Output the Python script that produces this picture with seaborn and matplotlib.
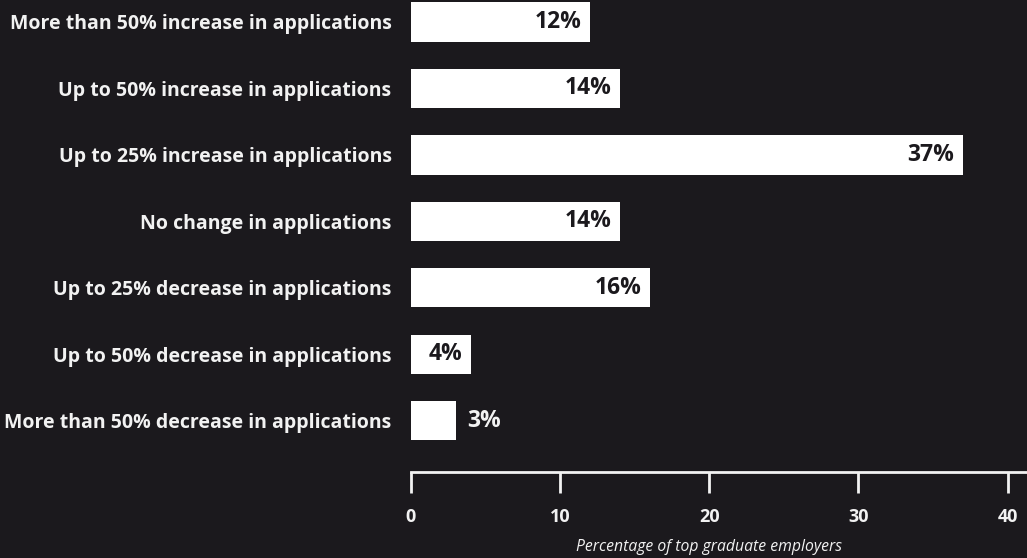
import matplotlib
matplotlib.use("Agg")
import matplotlib.pyplot as plt
import seaborn as sns
import pandas as pd

categories = [
    "More than 50% increase in applications",
    "Up to 50% increase in applications",
    "Up to 25% increase in applications",
    "No change in applications",
    "Up to 25% decrease in applications",
    "Up to 50% decrease in applications",
    "More than 50% decrease in applications",
]
values = [12, 14, 37, 14, 16, 4, 3]
x_ticks = [0, 10, 20, 30, 40]
x_label = "Percentage of top graduate employers"

BG = "#1b191d"
FG = "#f2f2f2"

sns.set_theme(style="white")
plt.rcParams["font.family"] = ["Open Sans", "DejaVu Sans"]

df = pd.DataFrame({"category": categories, "value": values})

fig = plt.figure(figsize=(10.27, 5.58), dpi=100, facecolor=BG)
ax = fig.add_axes([411 / 1027, 86 / 558, 616 / 1027, 472 / 558])
ax.set_facecolor(BG)

sns.barplot(data=df, x="value", y="category", orient="h", color="white",
            saturation=1, width=0.59, ax=ax, edgecolor="none")

ax.set_xlim(0, 41.3)
ax.set_ylim(6.77, -0.33)

for i, v in enumerate(values):
    if v >= 4:
        ax.annotate(f"{v}%", xy=(v, i), xytext=(-6, 0), textcoords="offset points",
                    ha="right", va="center", color=BG, fontsize=16.5,
                    fontweight="bold")
    else:
        ax.annotate(f"{v}%", xy=(v, i), xytext=(8, 0), textcoords="offset points",
                    ha="left", va="center", color=FG, fontsize=16.5,
                    fontweight="bold")

for s in ["top", "right", "left"]:
    ax.spines[s].set_visible(False)
ax.spines["bottom"].set_color(FG)
ax.spines["bottom"].set_linewidth(2)

ax.set_xticks(x_ticks)
ax.set_xticklabels([str(t) for t in x_ticks])
ax.tick_params(axis="x", bottom=True, direction="out", length=15, width=2,
               color=FG, labelcolor=FG, labelsize=13, pad=11)
for lbl in ax.get_xticklabels():
    lbl.set_fontweight("bold")
ax.tick_params(axis="y", left=False, length=0, labelcolor=FG, labelsize=14.0,
               pad=14)
for lbl in ax.get_yticklabels():
    lbl.set_fontweight("bold")

ax.set_ylabel("")
ax.set_xlabel(x_label, color=FG, fontsize=11.3, fontstyle="italic")
ax.xaxis.set_label_coords(298 / 616, -67 / 472)

fig.savefig("out.png", dpi=100, facecolor=BG)
